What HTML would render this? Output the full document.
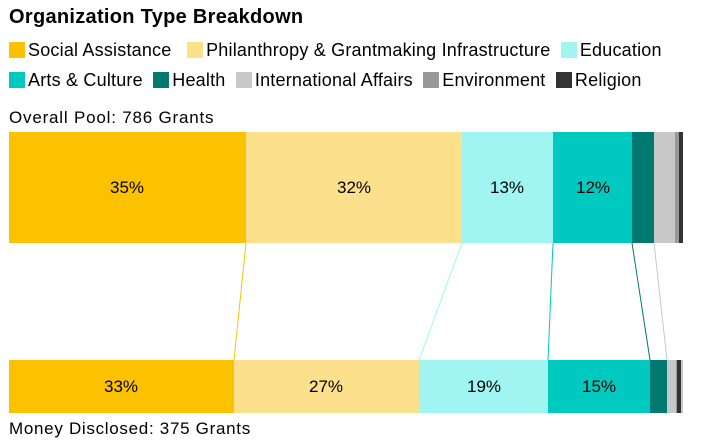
<!DOCTYPE html>
<html><head><style>
body{margin:0;width:709px;height:448px;background:#fff;font-family:"Liberation Sans",sans-serif;overflow:hidden;position:relative;color:#000}
.t{position:absolute;white-space:nowrap}
.sw{display:inline-block;width:16px;height:16px;vertical-align:-2px;margin-right:3px}
</style></head><body>
<div class="t" style="left:9px;top:6px;font-size:20px;font-weight:bold;letter-spacing:0.3px">Organization Type Breakdown</div>
<div class="t" style="left:9px;top:40px;font-size:18px;letter-spacing:0.2px">
<span class="sw" style="background:#fcc200"></span>Social Assistance&nbsp;&nbsp; <span class="sw" style="background:#fce08c"></span>Philanthropy &amp; Grantmaking Infrastructure&nbsp; <span class="sw" style="background:#a0f5f2"></span>Education</div>
<div class="t" style="left:9px;top:70px;font-size:18px;letter-spacing:0.2px">
<span class="sw" style="background:#00c9c0"></span>Arts &amp; Culture&nbsp; <span class="sw" style="background:#007a70"></span>Health&nbsp; <span class="sw" style="background:#c8c8c8"></span>International Affairs&nbsp; <span class="sw" style="background:#999"></span>Environment&nbsp; <span class="sw" style="background:#333"></span>Religion</div>
<div class="t" style="left:9px;top:108px;font-size:17px;letter-spacing:0.8px">Overall Pool: 786 Grants</div>
<div class="t" style="left:9px;top:419px;font-size:17px;letter-spacing:0.7px">Money Disclosed: 375 Grants</div>
<svg width="709" height="448" style="position:absolute;left:0;top:0" font-family="Liberation Sans, sans-serif" font-size="17">
<rect x="9" y="132" width="237" height="111" fill="#fcc200"/>
<rect x="246" y="132" width="216" height="111" fill="#fce08c"/>
<rect x="462" y="132" width="91" height="111" fill="#a0f5f2"/>
<rect x="553" y="132" width="79" height="111" fill="#00c9c0"/>
<rect x="632" y="132" width="22" height="111" fill="#007a70"/>
<rect x="654" y="132" width="21" height="111" fill="#c8c8c8"/>
<rect x="675" y="132" width="4" height="111" fill="#999"/>
<rect x="679" y="132" width="4" height="111" fill="#333"/>
<rect x="9" y="360" width="225" height="53" fill="#fcc200"/>
<rect x="234" y="360" width="185" height="53" fill="#fce08c"/>
<rect x="419" y="360" width="129" height="53" fill="#a0f5f2"/>
<rect x="548" y="360" width="102" height="53" fill="#00c9c0"/>
<rect x="650" y="360" width="17" height="53" fill="#007a70"/>
<rect x="667" y="360" width="9" height="53" fill="#c8c8c8"/>
<rect x="676" y="360" width="1" height="53" fill="#999"/>
<rect x="677" y="360" width="4" height="53" fill="#333"/>
<rect x="681" y="360" width="2" height="53" fill="#c8c8c8"/>
<line x1="246" y1="243" x2="234" y2="360" stroke="#fcc200" stroke-width="1"/>
<line x1="462" y1="243" x2="419" y2="360" stroke="#a0f5f2" stroke-width="1"/>
<line x1="553" y1="243" x2="548" y2="360" stroke="#00c9c0" stroke-width="1"/>
<line x1="632" y1="243" x2="650" y2="360" stroke="#007a70" stroke-width="1"/>
<line x1="654" y1="243" x2="667" y2="360" stroke="#c8c8c8" stroke-width="1"/>
<g text-anchor="middle">
<text x="127" y="193">35%</text><text x="354" y="193">32%</text><text x="507" y="193">13%</text><text x="593" y="193">12%</text>
<text x="121" y="392">33%</text><text x="326" y="392">27%</text><text x="484" y="392">19%</text><text x="599" y="392">15%</text>
</g>
</svg>
</body></html>
